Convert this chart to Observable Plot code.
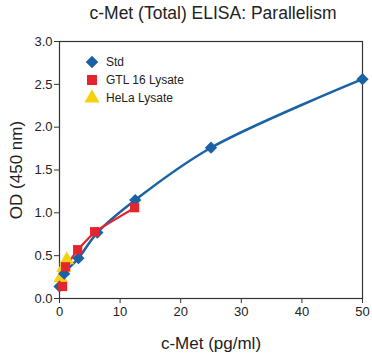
<!DOCTYPE html>
<html><head><meta charset="utf-8">
<script src="https://cdn.jsdelivr.net/npm/d3@7"></script>
<script src="https://cdn.jsdelivr.net/npm/@observablehq/plot@0.6"></script>
<style>
body{margin:0;background:#fff;font-family:"Liberation Sans",Arial,Helvetica,sans-serif;}
#wrap{position:relative;width:372px;height:354px;overflow:hidden;}
#title{position:absolute;left:54px;top:2px;width:318px;text-align:center;font-size:17.5px;color:#222;line-height:22px;}
#chart{position:absolute;left:0;top:30px;}
#legend{position:absolute;left:84px;top:53px;font-size:12px;color:#222;}
.item{display:flex;align-items:center;height:18px;}
.item svg{margin-right:6px;}
</style></head>
<body>
<div id="wrap">
  <div id="title"></div>
  <div id="chart"></div>
  <div id="legend"></div>
</div>
<script>
const titleText = "c-Met (Total) ELISA: Parallelism";
const xLabel = "c-Met (pg/ml)";
const yLabel = "OD (450 nm)";
const seriesNames = ["Std", "GTL 16 Lysate", "HeLa Lysate"];
const seriesColors = ["#1a62a3", "#e5252e", "#f6d10f"];
const seriesSymbols = ["diamond2", "square", "triangle"];

const stdX = [0, 0.78, 3.125, 6.25, 12.5, 25, 50];
const stdY = [0.14, 0.29, 0.47, 0.77, 1.15, 1.76, 2.56];
const gtlX = [0.5, 1.0, 3.0, 5.8, 12.4];
const gtlY = [0.14, 0.37, 0.57, 0.78, 1.06];
const helaX = [0.2, 0.7, 1.2];
const helaY = [0.24, 0.36, 0.45];

const xTicks = [0, 10, 20, 30, 40, 50];
const yTicks = [0, 0.5, 1.0, 1.5, 2.0, 2.5, 3.0];

document.getElementById("title").textContent = titleText;

const mk = (xs, ys, s) => xs.map((x, i) => ({x, y: ys[i], s}));
const std = mk(stdX, stdY, seriesNames[0]);
const gtl = mk(gtlX, gtlY, seriesNames[1]);
const hela = mk(helaX, helaY, seriesNames[2]);

const chart = Plot.plot({
  width: 372,
  height: 324,
  marginTop: 11,
  marginBottom: 56,
  marginLeft: 59,
  marginRight: 10,
  style: {fontFamily: '"Liberation Sans", Arial, sans-serif', fontSize: "13px", color: "#222", background: "#fff"},
  x: {domain: [0, 50], ticks: xTicks, label: null},
  y: {domain: [0, 3], ticks: yTicks, label: null},
  marks: [
    Plot.frame({stroke: "#333", strokeWidth: 1.2}),
    Plot.axisX({ticks: xTicks, tickSize: 5, tickPadding: 3, fontSize: 13, label: xLabel, labelArrow: "none", labelAnchor: "center", labelOffset: 50, stroke: "#333"}),
    Plot.axisY({ticks: yTicks, tickSize: 5, tickPadding: 2, tickFormat: d => d.toFixed(1), fontSize: 13, label: yLabel, labelArrow: "none", labelAnchor: "center", labelOffset: 50, stroke: "#333"}),
    Plot.line(hela, {x: "x", y: "y", stroke: seriesColors[2], strokeWidth: 2.2}),
    Plot.line(std, {x: "x", y: "y", stroke: seriesColors[0], strokeWidth: 2.5, curve: "catmull-rom"}),
    Plot.line(gtl, {x: "x", y: "y", stroke: seriesColors[1], strokeWidth: 2.2}),
    Plot.dot(hela, {x: "x", y: "y", symbol: () => seriesSymbols[2], fill: seriesColors[2], r: 5.5}),
    Plot.dot(std, {x: "x", y: "y", symbol: () => seriesSymbols[0], fill: seriesColors[0], r: 5.5}),
    Plot.dot(gtl, {x: "x", y: "y", symbol: () => seriesSymbols[1], fill: seriesColors[1], r: 5.2})
  ]
});
chart.querySelectorAll('[aria-label="x-axis label"] text, [aria-label="y-axis label"] text').forEach(t => {
  t.style.fontSize = "17px";
  t.textContent = t.textContent.replace(/\s*[→↑←↓]\s*/g, "");
});
document.getElementById("chart").appendChild(chart);

const symMap = {diamond2: d3.symbolDiamond2, square: d3.symbolSquare, triangle: d3.symbolTriangle};
const legend = d3.select("#legend");
seriesNames.forEach((name, i) => {
  const item = legend.append("div").attr("class", "item");
  const svg = item.append("svg").attr("width", 16).attr("height", 16);
  svg.append("path")
    .attr("transform", "translate(8,8)")
    .attr("d", d3.symbol(symMap[seriesSymbols[i]], 100)())
    .attr("fill", seriesColors[i]);
  item.append("span").text(name);
});
</script>
</body></html>
